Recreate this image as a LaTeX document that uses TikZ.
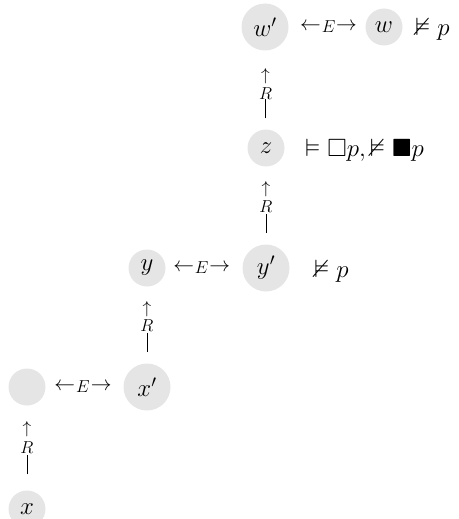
\documentclass[tikz,border=0pt]{standalone}
\usepackage{amssymb}
\begin{document}
\begin{tikzpicture}[x=1pt,y=-1pt,
  world/.style={circle,fill=black!10,inner sep=0pt,minimum size=37pt,font=\fontsize{25}{30}\selectfont},
  bigworld/.style={world,minimum size=47pt},
  lab/.style={inner sep=0pt,font=\fontsize{17.28}{20}\selectfont},
  arr/.style={inner sep=0pt,font=\fontsize{20.74}{24}\selectfont},
  varr/.style={inner sep=0pt,font=\fontsize{17.28}{22}\selectfont},
  fact/.style={anchor=base west,inner sep=0pt,font=\fontsize{25}{30}\selectfont}]
\useasboundingbox (0,0) rectangle (458,519);
% worlds
\node[bigworld] (wp) at (265,27) {$w'$};
\node[world]    (w)  at (384,27) {$w$};
\node[world]    (z)  at (266,148) {$z$};
\node[bigworld] (yp) at (266,268) {$y'$};
\node[world]    (y)  at (147,268) {$y$};
\node[bigworld] (xp) at (147,387) {$x'$};
\node[world]    (e)  at (27,387) {};
\node[world]    (x)  at (27,509) {$x$};
% facts
\node[fact] (fw) at (415,36) {$\nvDash p$};
\node[fact] (fz) at (305,156) {$\vDash \square p, \nvDash \blacksquare p$};
\node[fact] (fy) at (314,277) {$\nvDash p$};
% E connectors
\path (wp) -- (w) node[arr,pos=0.285]{$\leftarrow$} node[lab,pos=0.52]{$E$} node[arr,pos=0.755]{$\rightarrow$};
\path (y) -- (yp) node[arr,pos=0.235]{$\leftarrow$} node[lab,pos=0.47]{$E$} node[arr,pos=0.705]{$\rightarrow$};
\path (e) -- (xp) node[arr,pos=0.245]{$\leftarrow$} node[lab,pos=0.48]{$E$} node[arr,pos=0.715]{$\rightarrow$};
% R connectors
\path (z) -- (wp) node[lab,pos=0.26]{\rule{0.7pt}{19pt}} node[lab,pos=0.46]{$R$} node[varr,pos=0.67]{$\uparrow$};
\path (yp) -- (z) node[lab,pos=0.27]{\rule{0.7pt}{19pt}} node[lab,pos=0.49]{$R$} node[varr,pos=0.71]{$\uparrow$};
\path (xp) -- (y) node[lab,pos=0.27]{\rule{0.7pt}{19pt}} node[lab,pos=0.49]{$R$} node[varr,pos=0.71]{$\uparrow$};
\path (x) -- (e) node[lab,pos=0.30]{\rule{0.7pt}{19pt}} node[lab,pos=0.51]{$R$} node[varr,pos=0.72]{$\uparrow$};
\end{tikzpicture}
\end{document}
